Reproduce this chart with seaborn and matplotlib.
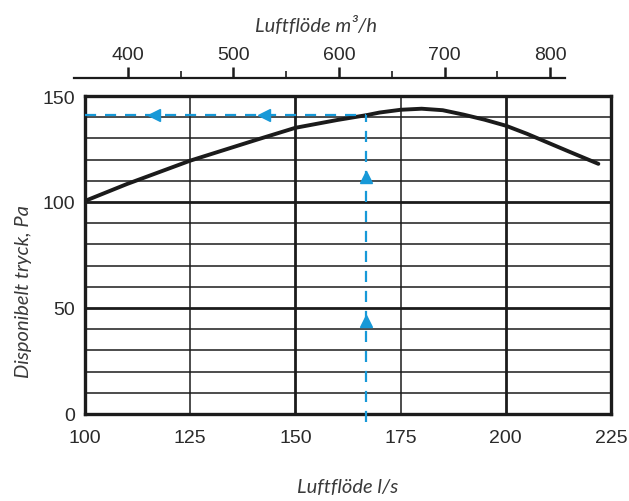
import numpy as np
import pandas as pd
import matplotlib
matplotlib.use("Agg")
import matplotlib.pyplot as plt
import seaborn as sns

# ── Data ────────────────────────────────────────────────────────────
flow_ls = [100, 110, 125, 141, 150, 160, 167, 170, 175, 180, 185, 190, 195,
           200, 205, 215, 222]
pressure_pa = [100.5, 108.5, 119.5, 129.5, 135, 138.7, 141, 142.2, 143.5,
               144, 143.3, 141.2, 138.8, 136, 132.2, 123.8, 118]

# operating point (600 m3/h = 166.7 l/s)
op_flow = 166.7
op_pressure = 141

# arrow heads on the dashed guide lines
arrow_left_x = [116.5, 142.5]
arrow_up_y = [112, 44]

x_ticks = [100, 125, 150, 175, 200, 225]
y_ticks = [0, 50, 100, 150]
y_thin = [10, 20, 30, 40, 60, 70, 80, 90, 110, 120, 130, 140]
y_thick = [50, 100]
x_thin = [125, 175]
x_thick = [150, 200]

top_major = [400, 500, 600, 700, 800]
top_minor = [450, 550, 650, 750]

# ── Style ───────────────────────────────────────────────────────────
sns.set_theme(style="white")
plt.rcParams["font.family"] = ["Liberation Sans", "DejaVu Sans"]

ink = "#1b1b1b"
blue = "#1799d8"
text_col = "#2a2a2a"
label_font = dict(family="Lato", style="italic", weight="normal", size=14.5,
                  color="#3a3a3a")

fig = plt.figure(figsize=(6.29, 5.02), dpi=100)
ax = fig.add_axes([85 / 629, 87 / 502, 526 / 629, 318 / 502])

# grid
for y in y_thin:
    ax.axhline(y, color=ink, lw=1.1, zorder=1)
for y in y_thick:
    ax.axhline(y, color=ink, lw=2.0, zorder=1)
for x in x_thin:
    ax.axvline(x, color=ink, lw=1.1, zorder=1)
for x in x_thick:
    ax.axvline(x, color=ink, lw=2.0, zorder=1)

# fan curve
curve = pd.DataFrame({"flow": flow_ls, "pressure": pressure_pa})
sns.lineplot(data=curve, x="flow", y="pressure", ax=ax, color=ink, lw=2.8,
             zorder=3, legend=False)

# dashed guide lines
ax.plot([flow_ls[0], op_flow], [op_pressure, op_pressure], color=blue, lw=1.6,
        dashes=(5, 4), zorder=4)
ax.plot([op_flow, op_flow], [-4, op_pressure], color=blue, lw=1.6,
        dashes=(5, 4), zorder=4, clip_on=False)
ax.plot(arrow_left_x, [op_pressure] * len(arrow_left_x), ls="none", marker="<",
        ms=8, color=blue, zorder=5)
ax.plot([op_flow] * len(arrow_up_y), arrow_up_y, ls="none", marker="^",
        ms=8, color=blue, zorder=5)

ax.set_xlim(100, 225)
ax.set_ylim(0, 150)
ax.set_xticks(x_ticks)
ax.set_yticks(y_ticks)
ax.tick_params(axis="both", length=0, labelsize=14, colors=text_col)
ax.tick_params(axis="x", pad=11)
ax.tick_params(axis="y", pad=7)
for s in ax.spines.values():
    s.set_visible(True)
    s.set_color(ink)
    s.set_linewidth(2.4)

ax.set_xlabel("Luftflöde l/s", **label_font)
ax.xaxis.set_label_coords(0.5, -0.2)
ax.set_ylabel("Disponibelt tryck, Pa", **label_font)
ax.yaxis.set_label_coords(-0.1, 0.387)

# ── Top m3/h scale ──────────────────────────────────────────────────
top = fig.add_axes([74 / 629, 1 - 79 / 502, (565 - 74) / 629, 0.0001])
top.set_xlim(349, 814)
top.set_ylim(0, 1)
top.set_yticks([])
for name, s in top.spines.items():
    s.set_visible(name == "top")
top.spines["top"].set_color(ink)
top.spines["top"].set_linewidth(1.6)
top.set_facecolor("none")
top.xaxis.set_ticks_position("top")
top.xaxis.set_label_position("top")
top.set_xticks(top_major)
top.set_xticks(top_minor, minor=True)
top.tick_params(axis="x", which="major", direction="out", length=8, width=1.8,
                color=ink, labelsize=14, labelcolor=text_col, pad=3)
top.tick_params(axis="x", which="minor", direction="out", length=5, width=1.2,
                color=ink)
fig.text(316 / 629, 1 - 25 / 502, "Luftflöde m³/h", ha="center", va="center",
         **label_font)

fig.savefig("out.png", dpi=100)
